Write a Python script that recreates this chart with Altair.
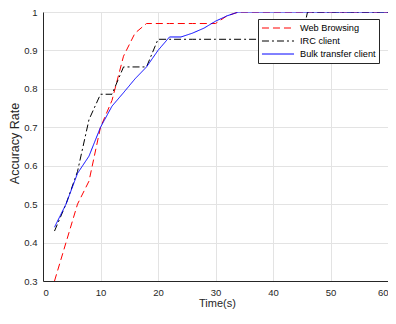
import altair as alt
import pandas as pd

series_names = ["Web Browsing", "IRC client", "Bulk transfer client"]
series_colors = ["#ff0000", "#000000", "#0000ff"]
series_dashes = [[7, 4], [7, 3, 2, 3], [1, 0]]

web_t = [2, 4, 6, 8, 10, 12, 14, 16, 18, 20, 22, 24, 26, 28, 30, 32, 34, 36, 40, 45, 50, 55, 60]
web_acc = [0.30, 0.40, 0.50, 0.56, 0.70, 0.77, 0.885, 0.945, 0.97, 0.97, 0.97, 0.97, 0.97, 0.97, 0.97, 0.99, 1.0, 1.0, 1.0, 1.0, 1.0, 1.0, 1.0]

irc_t = [2, 4, 6, 8, 10, 12, 14, 16, 18, 20, 22, 26, 30, 35, 40, 45, 46, 50, 55, 60]
irc_acc = [0.43, 0.50, 0.585, 0.72, 0.786, 0.786, 0.857, 0.857, 0.857, 0.929, 0.929, 0.929, 0.929, 0.929, 0.929, 0.929, 1.0, 1.0, 1.0, 1.0]

bulk_t = [2, 4, 6, 8, 10, 12, 14, 16, 18, 20, 22, 24, 26, 28, 30, 32, 34, 40, 45, 50, 55, 60]
bulk_acc = [0.44, 0.50, 0.58, 0.625, 0.70, 0.755, 0.79, 0.826, 0.857, 0.90, 0.935, 0.935, 0.945, 0.958, 0.976, 0.99, 1.0, 1.0, 1.0, 1.0, 1.0, 1.0]

x_ticks = [0, 10, 20, 30, 40, 50, 60]
y_ticks = [0.3, 0.4, 0.5, 0.6, 0.7, 0.8, 0.9, 1.0]

rows = []
for name, ts, vs in [(series_names[0], web_t, web_acc),
                     (series_names[1], irc_t, irc_acc),
                     (series_names[2], bulk_t, bulk_acc)]:
    for i, (t, v) in enumerate(zip(ts, vs)):
        rows.append({"series": name, "t": t, "acc": v, "i": i})
df = pd.DataFrame(rows)

FONT = "Liberation Sans"

legend_opts = dict(title=None, orient="none", legendX=215, legendY=7,
                   symbolType="M-3,0L3,0", symbolSize=114,
                   symbolStrokeWidth=1, symbolOffset=11, labelFontSize=9.2,
                   labelFont=FONT, labelColor="#000000",
                   strokeColor="#262626", fillColor="#ffffff",
                   padding=3, rowPadding=1, labelOffset=16)

chart = alt.Chart(df).mark_line(strokeWidth=1, clip=True).encode(
    x=alt.X("t:Q", scale=alt.Scale(domain=[0, 60], nice=False),
            axis=alt.Axis(values=x_ticks, title="Time(s)", format="d",
                          titleX=174, titleY=22, titleBaseline="middle",
                          titleFontSize=11, titleFontWeight="normal")),
    y=alt.Y("acc:Q", scale=alt.Scale(domain=[0.3, 1.0], nice=False, zero=False),
            axis=alt.Axis(values=y_ticks, title="Accuracy Rate",
                          labelExpr="datum.value == 1 ? '1' : format(datum.value, '.1f')",
                          titleX=-29, titleY=131, titleAlign="center",
                          titleBaseline="middle", titleAngle=270,
                          titleFontSize=12.5, titleFontWeight="normal")),
    color=alt.Color("series:N", scale=alt.Scale(domain=series_names, range=series_colors),
                    legend=alt.Legend(**legend_opts)),
    strokeDash=alt.StrokeDash("series:N", scale=alt.Scale(domain=series_names, range=series_dashes),
                              legend=alt.Legend(**legend_opts)),
    order="i:Q",
).properties(
    width=345, height=269,
    autosize=alt.AutoSizeParams(type="none"),
    padding={"left": 35, "top": 4, "right": 0, "bottom": 29},
).configure_axis(
    grid=True, gridColor="#e3e3e3", gridWidth=1,
    domainColor="#262626", domainWidth=1,
    ticks=False, labelPadding=6,
    labelFont=FONT, titleFont=FONT, labelFontSize=9.5,
    labelColor="#262626", titleColor="#262626",
).configure_view(stroke=None)

chart.save("out.html", embed_options={"renderer": "svg", "actions": False})
